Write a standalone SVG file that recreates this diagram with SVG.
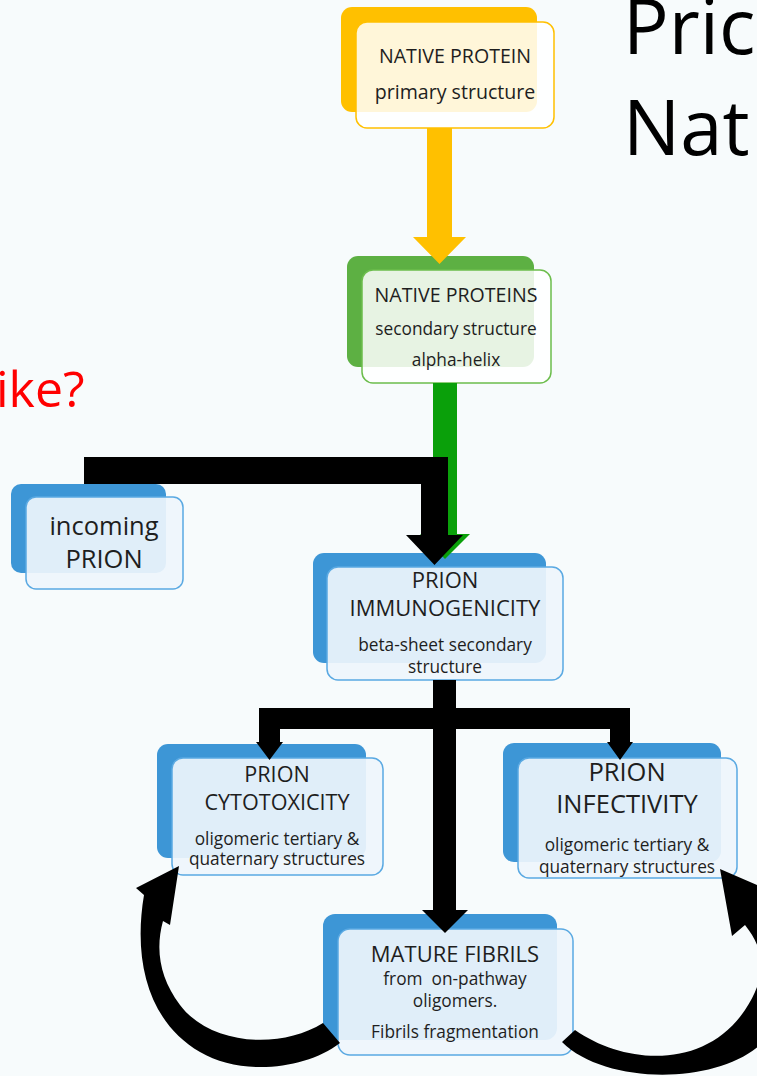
<svg xmlns="http://www.w3.org/2000/svg" width="757" height="1076" viewBox="0 0 757 1076">
<style>
.t{font-family:"Open Sans","Noto Sans",sans-serif;fill:#1e1e1e;text-anchor:middle}
.b{font-size:17.3px}
.backO{fill:#ffc000}
.frontO{fill:#ffffff;fill-opacity:.85;stroke:#ffc000;stroke-width:1.5}
.backG{fill:#5db043}
.frontG{fill:#ffffff;fill-opacity:.85;stroke:#6cbd4c;stroke-width:1.5}
.backB{fill:#3d96d6}
.frontB{fill:#eef5fc;fill-opacity:.92;stroke:#5aa9e2;stroke-width:1.5}
.blk{fill:#000000}
</style>
<rect x="0" y="0" width="757" height="1076" fill="#f7fbfc"/>
<g id="title">
<text x="623" y="54" style="font-family:'Open Sans','Noto Sans',sans-serif;font-size:76px;fill:#000">Pric</text>
<text x="623" y="155" style="font-family:'Open Sans','Noto Sans',sans-serif;font-size:76px;fill:#000">Nat</text>
<text x="-4" y="407" style="font-family:'Open Sans','Noto Sans',sans-serif;font-size:50px;fill:#ff0000">ike?</text>
</g>
<g id="native-protein">
<rect class="backO" x="341" y="7" width="196" height="105" rx="11"/>
<rect class="frontO" x="356" y="22" width="198" height="106" rx="11"/>
<text class="t" x="455" y="63" style="font-size:19.6px">NATIVE PROTEIN</text>
<text class="t" x="455" y="99" style="font-size:19.6px">primary structure</text>
</g>
<g id="native-proteins">
<rect class="backG" x="347" y="256" width="187" height="111" rx="11"/>
<rect class="frontG" x="362" y="270" width="189" height="113" rx="11"/>
<text class="t" x="456" y="302" style="font-size:19.6px">NATIVE PROTEINS</text>
<text class="t b" x="456" y="335">secondary structure</text>
<text class="t b" x="456" y="366">alpha-helix</text>
</g>
<g id="incoming-prion">
<rect class="backB" x="11" y="484" width="155" height="89" rx="10"/>
<rect class="frontB" x="26" y="497" width="157" height="92" rx="10"/>
<text class="t" x="104" y="535" style="font-size:25.5px">incoming</text>
<text class="t" x="104" y="568" style="font-size:25.5px">PRION</text>
</g>
<g id="prion-immunogenicity">
<rect class="backB" x="313" y="553" width="233" height="110" rx="11"/>
<rect class="frontB" x="327" y="567" width="236" height="113" rx="11"/>
<text class="t" x="445" y="588" style="font-size:22px">PRION</text>
<text class="t" x="445" y="616" style="font-size:22px">IMMUNOGENICITY</text>
<text class="t b" x="445" y="651">beta-sheet secondary</text>
<text class="t b" x="445" y="673">structure</text>
</g>
<g id="prion-cytotoxicity">
<rect class="backB" x="157" y="744" width="209" height="114" rx="11"/>
<rect class="frontB" x="172" y="758" width="211" height="117" rx="11"/>
<text class="t" x="277" y="782" style="font-size:21.6px">PRION</text>
<text class="t" x="277" y="810" style="font-size:21.6px">CYTOTOXICITY</text>
<text class="t b" x="277" y="845">oligomeric tertiary &amp;</text>
<text class="t b" x="277" y="865">quaternary structures</text>
</g>
<g id="prion-infectivity">
<rect class="backB" x="503" y="743" width="218" height="119" rx="11"/>
<rect class="frontB" x="518" y="758" width="219" height="120" rx="11"/>
<text class="t" x="627" y="781" style="font-size:25.5px">PRION</text>
<text class="t" x="627" y="813" style="font-size:25.5px">INFECTIVITY</text>
<text class="t b" x="627" y="851">oligomeric tertiary &amp;</text>
<text class="t b" x="627" y="873">quaternary structures</text>
</g>
<g id="mature-fibrils">
<rect class="backB" x="323" y="914" width="234" height="126" rx="12"/>
<rect class="frontB" x="338" y="929" width="235" height="126" rx="12"/>
<text class="t" x="455" y="962" style="font-size:22px">MATURE FIBRILS</text>
<text class="t b" x="455" y="985" xml:space="preserve">from  on-pathway</text>
<text class="t b" x="455" y="1007">oligomers.</text>
<text class="t b" x="455" y="1038">Fibrils fragmentation</text>
</g>
<g id="connectors">
<polygon fill="#ffc000" points="427,128 452,128 452,237 466,237 439.5,264 413,237 427,237"/>
<polygon fill="#0aa00a" points="433,383 457,383 457,534 470,534 445,559 420,534 433,534"/>
<polygon class="blk" points="84,457 448,457 448,535 463,535 434.5,565 406,535 421,535 421,484 84,484"/>
<polygon class="blk" points="433,680 456,680 456,708 630,708 630,742 633,742 620,760 607,742 610,742 610,729 456,729 456,910 468,910 445,933 422,910 433,910 433,729 280,729 280,742 283,742 269.5,760 256,742 259,742 259,708 433,708"/>
<path class="blk" d="M323,1023 C280,1050 210,1045 180,1005 C160,978 155,950 163,921 L170,925 L179,866 L136,888 L144,895 C133,960 148,1022 200,1052 C240,1076 305,1070 340,1043 Z"/>
<path class="blk" d="M575,1030 C625,1065 705,1070 745,1010 C768,975 765,950 745,925 L732,936 L720,869 L792,900 L775,912 C800,960 795,1020 760,1045 C715,1085 605,1085 562,1042 Z"/>
</g>
</svg>
